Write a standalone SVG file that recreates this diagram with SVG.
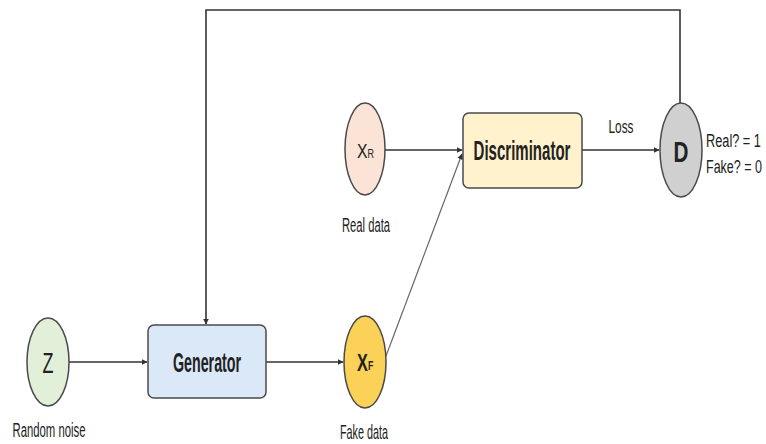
<svg xmlns="http://www.w3.org/2000/svg" width="766" height="444" viewBox="0 0 766 444">
<defs>
<style>
.n{stroke:#4a4a4a;stroke-width:1.5}
.c{fill:none;stroke:#333;stroke-width:1.6}
.t{font-family:"Liberation Sans",Arial,sans-serif;fill:#222}
.b{font-weight:bold}
.m{text-anchor:middle}
</style>
<marker id="ah" viewBox="0 0 10 10" refX="9" refY="5" markerWidth="6" markerHeight="6" orient="auto" markerUnits="userSpaceOnUse"><path d="M0,0 L10,5 L0,10 z" fill="#333"/></marker>
</defs>
<rect width="766" height="444" fill="#fff"/>
<g id="connectors">
<line class="c" x1="69" y1="362" x2="147" y2="362" marker-end="url(#ah)"/>
<line class="c" x1="266" y1="362" x2="343" y2="362" marker-end="url(#ah)"/>
<line class="c" x1="385" y1="150" x2="462" y2="150" marker-end="url(#ah)"/>
<line class="c" x1="386" y1="356" x2="462" y2="154" style="stroke:#666;stroke-width:1.2" marker-end="url(#ah)"/>
<line class="c" x1="582" y1="150" x2="659" y2="150" marker-end="url(#ah)"/>
<polyline class="c" points="680,103 680,10 206,10 206,324" marker-end="url(#ah)"/>
</g>
<g id="z">
<ellipse class="n" cx="48" cy="362" rx="21" ry="44" fill="#e2efd9"/>
<text class="t m" transform="translate(48,373) scale(0.62,1)" font-size="29">Z</text>
<text class="t m" transform="translate(49,437) scale(0.54,1)" font-size="21">Random noise</text>
</g>
<g id="generator">
<rect class="n" x="148" y="325" width="118" height="73" rx="6" fill="#dae8f7"/>
<text class="t b m" transform="translate(207,372) scale(0.51,1)" font-size="28">Generator</text>
</g>
<g id="xf">
<ellipse class="n" cx="365" cy="362" rx="21" ry="46" fill="#fbd157"/>
<text class="t b" transform="translate(357,371) scale(0.68,1)" font-size="24">X<tspan font-size="13" dy="-1">F</tspan></text>
<text class="t m" transform="translate(364,439) scale(0.54,1)" font-size="20">Fake data</text>
</g>
<g id="xr">
<ellipse class="n" cx="365" cy="149" rx="20" ry="46" fill="#fbe3d6"/>
<text class="t" transform="translate(357,158) scale(0.75,1)" font-size="21" fill="#444">X<tspan font-size="12">R</tspan></text>
<text class="t m" transform="translate(366,232) scale(0.534,1)" font-size="21">Real data</text>
</g>
<g id="discriminator">
<rect class="n" x="463" y="113" width="119" height="75" rx="6" fill="#fff2cc"/>
<text class="t b m" transform="translate(522,160) scale(0.537,1)" font-size="28">Discriminator</text>
</g>
<g id="d">
<ellipse class="n" cx="681" cy="150" rx="21" ry="47" fill="#d0d0d0"/>
<text class="t b m" transform="translate(681,162) scale(0.69,1)" font-size="30">D</text>
<text class="t" transform="translate(706,147) scale(0.672,1)" font-size="19">Real? = 1</text>
<text class="t" transform="translate(706,173) scale(0.659,1)" font-size="19">Fake? = 0</text>
</g>
<g id="loss">
<text class="t m" transform="translate(621,133) scale(0.658,1)" font-size="18">Loss</text>
</g>
</svg>
